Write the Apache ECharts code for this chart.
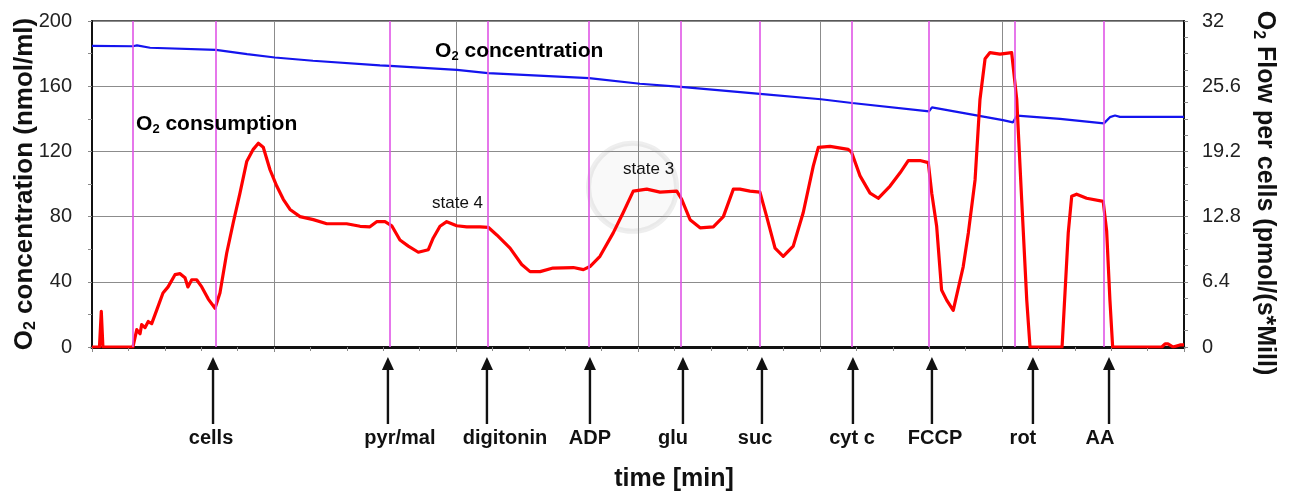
<!DOCTYPE html>
<html>
<head>
<meta charset="utf-8">
<script src="https://cdn.jsdelivr.net/npm/echarts@6/dist/echarts.min.js"></script>
<style>
  html, body { margin: 0; padding: 0; background: #fff; }
  #chart { width: 1290px; height: 493px; }
</style>
</head>
<body>
<div id="chart"></div>
<script>
var FONT = '"Liberation Sans", Arial, Helvetica, sans-serif';

// O2 concentration (blue, left axis, nmol/ml)
var concTime  = [0, 2.25, 2.47, 3.19, 6.81, 8.52, 10.05, 12.14, 15.82, 16.37, 20.05, 21.76, 27.31, 30.11, 32.36, 36.70, 40.05, 41.76, 45.99, 46.15, 50.05, 50.60, 50.82, 53.19, 55.60, 55.93, 56.21, 56.48, 60];
var concValue = [184.7, 184.5, 185, 183.6, 182.3, 179.7, 177.6, 175.6, 172.8, 172.5, 170, 168, 165, 161.5, 159.6, 155.3, 152, 149.7, 144.6, 147, 139.2, 137.8, 142, 140, 137.2, 141, 142, 141.2, 141.2];

// O2 flow per cells (red, right axis, pmol/(s*Mill))
var flowTime  = [0, 0.41, 0.51, 0.60, 2.25, 2.46, 2.64, 2.73, 2.91, 3.09, 3.28, 3.55, 3.90, 4.18, 4.56, 4.84, 5.11, 5.27, 5.48, 5.75, 6.03, 6.39, 6.76, 7.03, 7.40, 7.76, 8.13, 8.50, 8.86, 9.14, 9.41, 9.78, 10.15, 10.51, 10.88, 11.43, 12.16, 12.90, 13.99, 14.73, 15.27, 15.64, 16.10, 16.47, 16.92, 17.38, 17.93, 18.48, 18.75, 19.12, 19.49, 20.04, 20.59, 21.32, 21.77, 22.24, 22.97, 23.61, 24.07, 24.62, 25.33, 26.45, 27.00, 27.36, 27.91, 28.64, 29.19, 29.74, 30.48, 31.21, 32.13, 32.40, 32.86, 33.41, 34.14, 34.69, 35.24, 35.60, 36.15, 36.70, 37.07, 37.53, 37.98, 38.53, 39.08, 39.63, 39.91, 40.55, 41.55, 41.74, 42.20, 42.75, 43.20, 43.85, 44.40, 44.85, 45.49, 45.95, 46.14, 46.41, 46.68, 46.96, 47.32, 47.87, 48.15, 48.52, 48.79, 49.07, 49.34, 49.89, 50.53, 50.81, 51.08, 51.36, 51.54, 53.30, 53.64, 53.83, 54.10, 54.65, 55.56, 55.75, 55.93, 56.08, 58.78, 58.96, 59.12, 59.40, 59.78, 60];
var flowValue = [0, 0, 3.5, 0, 0, 1.7, 1.3, 2.2, 1.9, 2.5, 2.3, 3.6, 5.3, 5.9, 7.1, 7.2, 6.8, 5.9, 6.6, 6.6, 5.9, 4.7, 3.8, 5.3, 9.2, 12.2, 15.1, 18.2, 19.4, 20.0, 19.6, 17.4, 15.8, 14.5, 13.5, 12.8, 12.5, 12.1, 12.1, 11.85, 11.8, 12.3, 12.3, 11.9, 10.5, 9.9, 9.3, 9.55, 10.7, 11.85, 12.3, 11.9, 11.8, 11.8, 11.75, 11.0, 9.7, 8.1, 7.4, 7.4, 7.75, 7.8, 7.6, 7.9, 8.9, 11.2, 13.2, 15.3, 15.5, 15.2, 15.3, 14.5, 12.5, 11.7, 11.8, 12.8, 15.5, 15.5, 15.3, 15.2, 12.8, 9.7, 8.9, 9.9, 13.2, 17.75, 19.6, 19.7, 19.4, 19.1, 16.8, 15.1, 14.6, 15.8, 17.1, 18.3, 18.3, 18.1, 15.1, 11.85, 5.6, 4.6, 3.6, 7.9, 11.2, 16.4, 24.3, 28.3, 28.9, 28.75, 28.9, 24.3, 14.5, 4.6, 0, 0, 11.2, 14.8, 15.0, 14.6, 14.3, 11.4, 4.6, 0, 0, 0.3, 0.3, 0, 0.2, 0.2];

// injection lines (magenta)
var injectionTimes = [2.25, 6.81, 16.37, 21.76, 27.31, 32.36, 36.70, 41.76, 45.99, 50.71, 55.60];

// arrows below the time axis
var arrowTimes  = [6.65, 16.26, 21.70, 27.36, 32.47, 36.81, 41.81, 46.15, 51.70, 55.88];
var arrowLabels = ['cells', 'pyr/mal', 'digitonin', 'ADP', 'glu', 'suc', 'cyt c', 'FCCP', 'rot', 'AA'];
var labelTimes  = [6.54, 16.92, 22.69, 27.36, 31.92, 36.43, 41.76, 46.32, 51.15, 55.38];

// text notes inside the plot (time, O2 concentration scale)
var noteTexts  = ['{b|O}{s|2}{b| concentration}', '{b|O}{s|2}{b| consumption}', 'state 4', 'state 3'];
var noteTimes  = [18.85, 2.42, 18.68, 29.18];
var noteValues = [181.5, 136.6, 88, 108.9];
var noteBold   = [true, true, false, false];

function zip(a, b) {
  var out = [];
  for (var i = 0; i < a.length; i++) out.push([a[i], b[i]]);
  return out;
}

function subRich(size) {
  return {
    b: { fontFamily: FONT, fontWeight: 'bold', fontSize: size, color: '#111' },
    s: { fontFamily: FONT, fontWeight: 'bold', fontSize: Math.round(size * 0.62), color: '#111', padding: [Math.round(size * 0.5), 0, 0, 0] }
  };
}

var myChart = echarts.init(document.getElementById('chart'), null, { renderer: 'canvas' });

var option = {
  animation: false,
  backgroundColor: '#fff',
  grid: {
    left: 92, right: 106, top: 21, bottom: 146,
    outerBoundsMode: 'none',
    containLabel: false,
    show: true, borderColor: '#222', borderWidth: 1.5
  },
  xAxis: {
    type: 'value', min: 0, max: 60, interval: 10,
    name: 'time [min]',
    nameLocation: 'middle',
    nameGap: 120,
    nameMoveOverlap: false,
    nameTextStyle: { fontFamily: FONT, fontWeight: 'bold', fontSize: 25, color: '#111', padding: [0, 0, 0, 72] },
    axisLine: { show: true, lineStyle: { color: '#111', width: 3 } },
    axisTick: { show: true, length: 5, lineStyle: { color: '#888' } },
    minorTick: { show: true, splitNumber: 5, length: 4, lineStyle: { color: '#888' } },
    axisLabel: { show: false },
    splitLine: { show: true, lineStyle: { color: '#8c8c8c', width: 1 } }
  },
  yAxis: [{
    type: 'value', min: 0, max: 200, interval: 40,
    position: 'left',
    name: '{b|O}{s|2}{b| concentration (nmol/ml)}',
    nameLocation: 'middle',
    nameGap: 53,
    nameRotate: 90,
    nameMoveOverlap: false,
    nameTextStyle: { rich: subRich(26) },
    axisLine: { show: true, lineStyle: { color: '#111', width: 2 } },
    axisTick: { show: true, length: 4, lineStyle: { color: '#888' } },
    minorTick: { show: true, splitNumber: 2, length: 4, lineStyle: { color: '#888' } },
    axisLabel: { fontFamily: FONT, fontSize: 20, color: '#222', margin: 20 },
    splitLine: { show: true, lineStyle: { color: '#8c8c8c', width: 1 } }
  }, {
    type: 'value', min: 0, max: 32, interval: 6.4,
    position: 'right',
    name: '{b|O}{s|2}{b| Flow per cells (pmol/(s*Mill)}',
    nameLocation: 'middle',
    nameGap: 66,
    nameRotate: -90,
    nameMoveOverlap: false,
    nameTextStyle: { rich: subRich(25), padding: [0, 0, 0, 18] },
    axisLine: { show: true, lineStyle: { color: '#111', width: 2 } },
    axisTick: { show: true, length: 4, lineStyle: { color: '#888' } },
    minorTick: { show: true, splitNumber: 4, length: 4, lineStyle: { color: '#888' } },
    axisLabel: {
      fontFamily: FONT, fontSize: 20, color: '#222', margin: 18,
      formatter: function (v) { return String(Math.round(v * 10) / 10); }
    },
    splitLine: { show: false }
  }],
  series: [{
    // injection markers
    type: 'line',
    data: [],
    z: 1,
    markLine: {
      silent: true,
      symbol: ['none', 'none'],
      label: { show: false },
      lineStyle: { color: '#e055e6', width: 1.6, type: 'solid' },
      data: injectionTimes.map(function (t) { return { xAxis: t }; })
    }
  }, {
    name: 'O2 concentration',
    type: 'line',
    yAxisIndex: 0,
    data: zip(concTime, concValue),
    showSymbol: false,
    z: 3,
    lineStyle: { color: '#1414ee', width: 2.2 }
  }, {
    name: 'O2 flow',
    type: 'line',
    yAxisIndex: 1,
    data: zip(flowTime, flowValue),
    showSymbol: false,
    z: 4,
    lineStyle: { color: '#ff0000', width: 3.2, join: 'round' }
  }]
};

myChart.setOption(option);

// annotations placed through the chart's own scales
var graphics = [];

var wm = myChart.convertToPixel({ xAxisIndex: 0, yAxisIndex: 0 }, [29.7, 98]);
graphics.push({
  type: 'circle', z: 0,
  shape: { cx: wm[0], cy: wm[1], r: 44 },
  style: { fill: 'rgba(0,0,0,0.025)', stroke: 'rgba(160,160,160,0.18)', lineWidth: 5 }
});

for (var i = 0; i < noteTexts.length; i++) {
  var p = myChart.convertToPixel({ xAxisIndex: 0, yAxisIndex: 0 }, [noteTimes[i], noteValues[i]]);
  graphics.push({
    type: 'text', z: 10,
    x: p[0], y: p[1],
    style: noteBold[i] ? {
      text: noteTexts[i], rich: subRich(21),
      textAlign: 'left', textVerticalAlign: 'middle'
    } : {
      text: noteTexts[i], fill: '#111',
      font: '17px ' + FONT,
      textAlign: 'left', textVerticalAlign: 'middle'
    }
  });
}

var axisY = myChart.convertToPixel({ yAxisIndex: 0 }, 0);
for (var j = 0; j < arrowTimes.length; j++) {
  var ax = myChart.convertToPixel({ xAxisIndex: 0 }, arrowTimes[j]);
  var lx = myChart.convertToPixel({ xAxisIndex: 0 }, labelTimes[j]);
  var tip = axisY + 10;
  graphics.push({
    type: 'line', z: 10,
    shape: { x1: ax, y1: tip + 8, x2: ax, y2: tip + 67 },
    style: { stroke: '#111', lineWidth: 2.4 }
  });
  graphics.push({
    type: 'polygon', z: 10,
    shape: { points: [[ax, tip], [ax - 6, tip + 13], [ax + 6, tip + 13]] },
    style: { fill: '#111' }
  });
  graphics.push({
    type: 'text', z: 10,
    x: lx, y: tip + 81,
    style: {
      text: arrowLabels[j], fill: '#111',
      font: 'bold 20px ' + FONT,
      textAlign: 'center', textVerticalAlign: 'middle'
    }
  });
}

myChart.setOption({ graphic: { elements: graphics } });
</script>
</body>
</html>
